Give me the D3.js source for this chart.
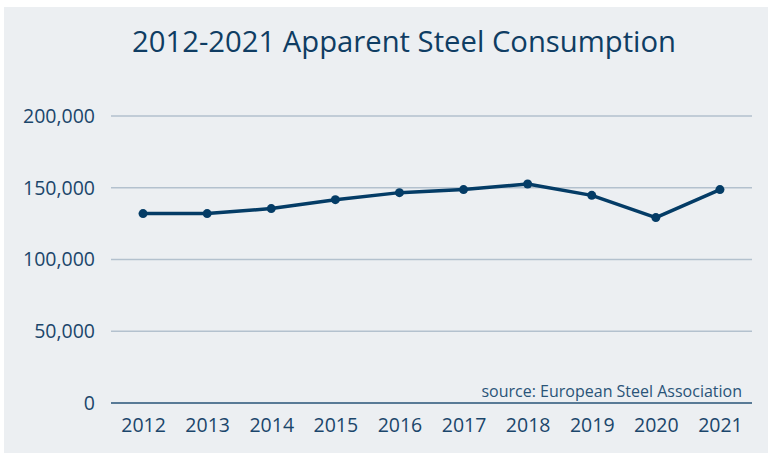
<!DOCTYPE html>
<html lang="en">
<head>
    <meta charset="UTF-8">
    <title>Apparent Steel Consumption</title>
    <script src="https://d3js.org/d3.v7.min.js"></script>
    <style>
        body { margin: 0; background: #fff; font-family: "Open Sans", sans-serif; }
    </style>
</head>
<body>
    <div id="chart"></div>
    <script>
        // Data
        const years = ["2012", "2013", "2014", "2015", "2016", "2017", "2018", "2019", "2020", "2021"];
        const consumption = [132000, 132000, 135500, 141700, 146600, 148700, 152600, 144700, 129200, 148700];
        const yTicks = [0, 50000, 100000, 150000, 200000];

        const width = 768;
        const height = 453;
        const margin = { top: 116, right: 16, bottom: 50, left: 111 };

        const svg = d3.select("#chart").append("svg")
            .attr("width", width)
            .attr("height", height);

        // panel background
        svg.append("rect")
            .attr("x", 4).attr("y", 7)
            .attr("width", width - 4).attr("height", height - 7)
            .attr("fill", "#eceff2");

        const x = d3.scalePoint()
            .domain(years)
            .range([margin.left, width - margin.right])
            .padding(0.5);

        const y = d3.scaleLinear()
            .domain([0, 200000])
            .range([height - margin.bottom, margin.top]);

        // gridlines
        svg.append("g")
            .selectAll("line")
            .data(yTicks.filter(d => d > 0))
            .join("line")
            .attr("x1", margin.left)
            .attr("x2", width - margin.right)
            .attr("y1", d => y(d))
            .attr("y2", d => y(d))
            .attr("stroke", "#b3c1ce")
            .attr("stroke-width", 1.5);

        // y axis labels
        const yAxis = svg.append("g")
            .attr("transform", `translate(${margin.left},0)`)
            .call(d3.axisLeft(y).tickValues(yTicks).tickFormat(d3.format(",")).tickSize(0).tickPadding(16));
        yAxis.select(".domain").remove();
        yAxis.selectAll("text")
            .attr("fill", "#1b466b")
            .style("font-family", "'Open Sans', sans-serif")
            .style("font-size", "19.5px");

        // x axis
        const xAxis = svg.append("g")
            .attr("transform", `translate(0,${y(0)})`)
            .call(d3.axisBottom(x).tickSize(0).tickPadding(15));
        xAxis.select(".domain")
            .attr("d", `M${margin.left},0H${width - margin.right}`)
            .attr("stroke", "#587a96")
            .attr("stroke-width", 2);
        xAxis.selectAll("text")
            .attr("fill", "#1b466b")
            .style("font-family", "'Open Sans', sans-serif")
            .style("font-size", "19.5px");

        // line
        const line = d3.line()
            .x((d, i) => x(years[i]))
            .y(d => y(d));

        svg.append("path")
            .datum(consumption)
            .attr("fill", "none")
            .attr("stroke", "#043c66")
            .attr("stroke-width", 3.5)
            .attr("stroke-linejoin", "round")
            .attr("d", line);

        svg.append("g")
            .selectAll("circle")
            .data(consumption)
            .join("circle")
            .attr("cx", (d, i) => x(years[i]))
            .attr("cy", d => y(d))
            .attr("r", 4.5)
            .attr("fill", "#043c66");

        // title
        svg.append("text")
            .attr("x", 132)
            .attr("y", 52)
            .attr("textLength", 544)
            .attr("lengthAdjust", "spacingAndGlyphs")
            .attr("fill", "#0f3d63")
            .style("font-size", "30px")
            .text("2012-2021 Apparent Steel Consumption");

        // source note
        svg.append("text")
            .attr("x", 742)
            .attr("y", 397)
            .attr("text-anchor", "end")
            .attr("fill", "#2a5478")
            .style("font-size", "16px")
            .text("source: European Steel Association");
    </script>
</body>
</html>
